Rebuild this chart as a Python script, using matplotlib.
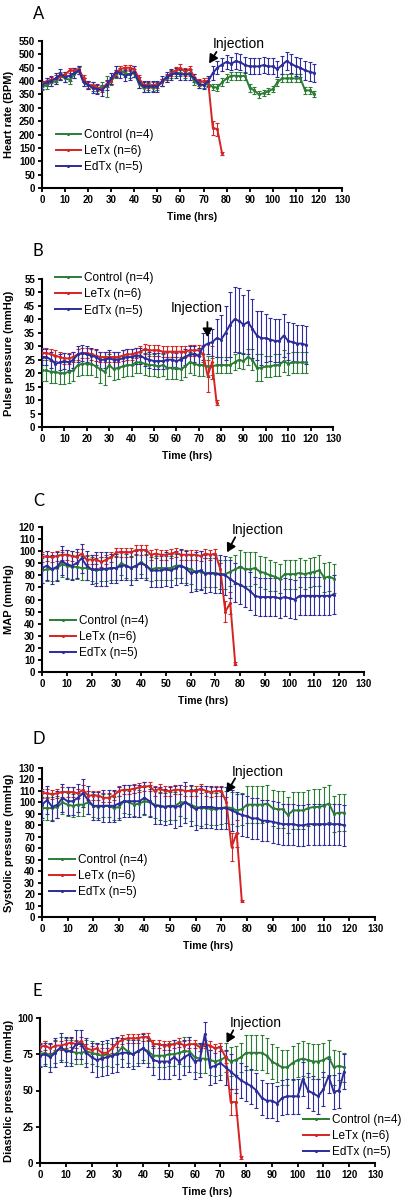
import matplotlib
matplotlib.use('Agg')
import matplotlib.pyplot as plt
from matplotlib.lines import Line2D

# ---------------- data ----------------
t_long = list(range(0, 120, 2))   # Control / EdTx time points (hrs)
t_short = list(range(0, 80, 2))   # LeTx time points (hrs)

series_names = ["Control (n=4)", "LeTx (n=6)", "EdTx (n=5)"]

# Panel A: Heart rate (BPM)
ctrl_A = [380, 385, 395, 400, 420, 410, 405, 425, 440, 395,
          385, 375, 370, 380, 380, 400, 425, 440, 430, 425,
          430, 390, 375, 380, 375, 380, 395, 410, 425, 430,
          430, 425, 430, 400, 385, 385, 390, 378, 376, 395,
          410, 420, 420, 418, 420, 375, 365, 350, 355, 362,
          370, 395, 410, 410, 410, 410, 410, 365, 365, 352]
ctrl_A_err = [15, 15, 12, 12, 15, 12, 15, 12, 12, 15,
              15, 12, 15, 15, 40, 15, 15, 15, 15, 15,
              15, 15, 15, 12, 12, 12, 12, 12, 12, 12,
              12, 12, 12, 15, 12, 12, 12, 12, 12, 15,
              15, 15, 15, 15, 15, 15, 12, 12, 12, 12,
              12, 12, 15, 15, 15, 15, 15, 12, 12, 12]
red_A = [390, 400, 405, 410, 420, 425, 440, 440, 445, 410,
         385, 385, 375, 370, 390, 400, 430, 445, 450, 450,
         445, 410, 385, 385, 385, 385, 395, 415, 430, 440,
         450, 435, 445, 415, 395, 400, 400, 225, 220, 130]
red_A_err = [12, 12, 12, 12, 12, 10, 10, 10, 12, 12,
             12, 12, 12, 12, 12, 12, 12, 12, 12, 12,
             12, 12, 12, 12, 12, 12, 12, 12, 12, 12,
             15, 15, 12, 12, 12, 12, 12, 25, 25, 5]
blue_A = [385, 395, 400, 410, 425, 415, 420, 430, 440, 395,
          385, 375, 370, 365, 385, 410, 435, 430, 420, 425,
          435, 395, 380, 380, 380, 380, 400, 415, 425, 430,
          425, 425, 425, 410, 390, 385, 400, 430, 450, 462,
          472, 465, 475, 470, 460, 455, 455, 455, 460, 455,
          455, 445, 460, 475, 465, 455, 450, 440, 435, 430]
blue_A_err = [15, 15, 20, 20, 20, 20, 20, 20, 15, 15,
              15, 20, 20, 20, 20, 20, 20, 20, 20, 20,
              20, 20, 20, 20, 20, 20, 20, 20, 20, 20,
              20, 20, 20, 15, 15, 15, 20, 25, 25, 25,
              25, 25, 30, 30, 30, 30, 30, 30, 30, 30,
              30, 30, 35, 35, 35, 35, 35, 35, 35, 35]

# Panel B: Pulse pressure (mmHg)
ctrl_B = [21, 21, 20.5, 20.5, 20, 20, 20.5, 21, 23, 23.5,
          23.5, 23.5, 22.5, 21.5, 20.5, 23, 21.5, 22, 22.5, 23,
          23, 24, 24, 23.5, 23, 23, 22.5, 23, 22, 22,
          22, 21.5, 22.5, 24, 23.5, 23, 23, 22.5, 22.5, 23,
          23, 23, 23, 24, 25, 24.5, 26, 25, 22, 22,
          22.5, 22.5, 23, 23, 24.5, 23.5, 24, 24, 24, 24]
ctrl_B_err = [4, 4, 4, 4, 4, 4, 4, 4, 4, 4,
              4, 4, 4, 5, 5, 4, 4, 4, 4, 4,
              4, 4, 4, 4, 4, 4, 4, 4, 4, 4,
              4, 4, 4, 4, 4, 4, 4, 4, 3, 3,
              3, 3, 3, 3, 3, 3, 3, 4, 5, 5,
              4, 4, 4, 4, 4, 4, 4, 4, 4, 4]
red_B = [27.5, 27.5, 27, 26.5, 26, 25.5, 25.5, 26, 27, 27.5,
         27.5, 27, 26.5, 26, 26, 26, 26, 26, 26.5, 27,
         27, 27.5, 28, 29, 28.5, 28.5, 28.5, 28, 28, 28,
         28, 28, 28, 28.5, 28.5, 28.5, 27, 19, 24, 9]
red_B_err = [2, 2, 2, 2, 2, 2, 2, 2, 2, 2,
             2, 2, 2, 2, 2, 2, 2, 2, 2, 2,
             2, 2, 2, 2, 2, 2, 2, 2, 2, 2,
             2, 2, 2, 2, 2, 2, 3, 6, 6, 1]
blue_B = [26, 26, 25, 23.5, 24, 24.5, 24, 25, 27, 27.5,
          27, 26.5, 26, 25, 25, 25.5, 25, 25, 25.5, 26,
          26, 26.5, 26.5, 25.5, 25, 24.5, 24.5, 24.5, 25, 25,
          24.5, 25, 26, 27, 27, 26.5, 30, 31, 31.5, 33,
          32.5, 35, 38, 40, 39.5, 38, 39, 36.5, 34, 33,
          33, 32.5, 32, 32, 34, 32, 31.5, 31, 31, 30.5]
blue_B_err = [3, 3, 3, 3, 3, 3, 3, 3, 3, 3,
              3, 3, 3, 3, 3, 3, 3, 3, 3, 3,
              3, 3, 3, 3, 3, 3, 3, 3, 3, 3,
              3, 3, 3, 3, 3, 3, 5, 4, 5, 7,
              9, 10, 12, 12, 12, 11, 12, 11, 9, 10,
              9, 8, 8, 8, 8, 7, 7, 7, 7, 7]

# Panel C: MAP (mmHg)
ctrl_C = [84, 85, 85, 86, 89, 88, 87, 87, 86, 86,
          85, 84, 85, 85, 86, 86, 90, 88, 86, 88,
          91, 88, 85, 86, 86, 86, 86, 88, 88, 86,
          85, 83, 83, 82, 82, 82, 81, 81, 83, 85,
          87, 85, 85, 86, 83, 82, 80, 79, 77, 81,
          81, 81, 82, 81, 82, 83, 84, 78, 79, 77]
ctrl_C_err = [10, 10, 10, 10, 10, 10, 10, 10, 10, 10,
              10, 10, 10, 10, 10, 10, 10, 10, 10, 10,
              10, 10, 10, 10, 10, 10, 10, 10, 10, 12,
              12, 14, 14, 12, 12, 12, 12, 12, 12, 12,
              14, 14, 14, 13, 13, 13, 13, 12, 12, 12,
              12, 12, 12, 12, 12, 12, 13, 12, 12, 12]
red_C = [95, 96, 95, 96, 97, 97, 96, 95, 98, 93,
         93, 93, 91, 93, 95, 99, 99, 99, 99, 101,
         101, 101, 97, 98, 97, 97, 98, 99, 97, 97,
         97, 97, 96, 98, 97, 98, 85, 50, 57, 7]
red_C_err = [4, 4, 4, 4, 4, 4, 4, 4, 4, 4,
             4, 4, 4, 4, 4, 4, 4, 4, 4, 4,
             4, 4, 4, 4, 4, 4, 4, 4, 4, 4,
             4, 4, 4, 4, 4, 4, 5, 9, 9, 1]
blue_C = [86, 88, 85, 87, 92, 89, 88, 90, 94, 88,
          85, 85, 85, 85.5, 86, 86, 88, 88, 86, 88,
          90, 88, 84, 84, 84, 85, 84, 86, 88, 86,
          82, 83, 84, 81, 82, 81, 81, 80, 77, 74,
          72, 70, 67, 63, 62, 62, 62, 62, 61, 62,
          61, 60, 63, 63, 63, 63, 63, 63, 63, 64]
blue_C_err = [12, 12, 12, 12, 12, 12, 12, 12, 12, 12,
              12, 14, 14, 14, 12, 12, 12, 12, 14, 12,
              12, 12, 14, 14, 14, 14, 14, 14, 14, 14,
              16, 16, 16, 16, 16, 16, 16, 16, 16, 16,
              16, 16, 16, 16, 16, 16, 16, 16, 16, 16,
              16, 16, 16, 16, 16, 16, 16, 16, 16, 16]

# Panel D: Systolic pressure (mmHg)
ctrl_D = [95, 95, 95, 96, 100, 98, 97, 98, 98, 100,
          97, 96, 97, 97, 95, 96, 101, 100, 98, 99,
          101, 100, 98, 97, 96, 97, 97, 100, 100, 98,
          96, 95, 95, 94, 94, 95, 96, 95, 93, 94,
          98, 98, 98, 98, 99, 95, 94, 94, 89, 93,
          93, 93, 95, 96, 96, 97, 99, 90, 91, 91]
ctrl_D_err = [10, 10, 10, 10, 10, 10, 10, 10, 10, 10,
              10, 10, 10, 10, 10, 10, 10, 10, 10, 12,
              12, 12, 12, 12, 12, 12, 12, 12, 14, 14,
              16, 16, 14, 14, 14, 14, 14, 14, 14, 14,
              16, 16, 16, 16, 16, 16, 16, 16, 16, 16,
              16, 16, 16, 16, 16, 16, 16, 16, 16, 16]
red_D = [108, 108, 107, 108, 109, 109, 109, 108, 111, 106,
         106, 106, 104, 104, 106, 110, 111, 111, 112, 113,
         114, 114, 110, 112, 110, 110, 111, 111, 110, 110,
         110, 112, 110, 109, 110, 110, 100, 61, 73, 14]
red_D_err = [4, 4, 4, 4, 4, 4, 4, 4, 4, 4,
             4, 4, 4, 4, 4, 4, 4, 4, 4, 4,
             4, 4, 4, 4, 4, 4, 4, 4, 4, 4,
             4, 4, 4, 4, 4, 4, 5, 12, 12, 1]
blue_D = [98, 102, 96, 98, 104, 101, 101, 104, 108, 102,
          97, 97, 97, 97, 97, 99, 101, 101, 101, 101,
          104, 101, 97, 97, 96, 97, 96, 97, 100, 97,
          94, 96, 96, 96, 95, 95, 95, 93, 91, 89,
          88, 86, 86, 84, 84, 83, 82, 81, 81, 81,
          80, 80, 81, 81, 81, 81, 81, 81, 81, 80]
blue_D_err = [12, 12, 12, 12, 12, 12, 12, 12, 12, 12,
              12, 12, 14, 14, 14, 14, 14, 14, 14, 14,
              14, 14, 16, 16, 16, 16, 18, 18, 18, 18,
              18, 18, 18, 18, 18, 18, 18, 18, 18, 18,
              18, 18, 18, 18, 18, 18, 18, 18, 18, 18,
              18, 18, 18, 18, 18, 18, 18, 18, 18, 18]

# Panel E: Diastolic pressure (mmHg)
ctrl_E = [75, 76, 74, 77, 79, 78, 77, 76, 76, 77,
          76, 75, 74, 75, 74, 76, 80, 77, 75, 77,
          79, 77, 74, 74, 74, 75, 75, 76, 77, 77,
          73, 72, 72, 71, 70, 71, 73, 70, 71, 73,
          76, 76, 76, 76, 74, 70, 68, 66, 66, 69,
          71, 72, 71, 70, 70, 71, 73, 66, 67, 66]
ctrl_E_err = [8, 8, 8, 8, 8, 8, 8, 8, 8, 8,
              8, 8, 8, 8, 8, 8, 8, 8, 8, 8,
              8, 8, 8, 8, 8, 8, 8, 8, 10, 10,
              10, 10, 10, 10, 10, 10, 10, 10, 10, 10,
              12, 12, 12, 12, 12, 12, 12, 12, 12, 12,
              12, 12, 12, 12, 12, 12, 12, 12, 10, 10]
red_E = [80, 81, 79, 81, 81, 82, 83, 82, 84, 79,
         78, 79, 76, 76, 79, 83, 85, 86, 86, 86,
         87, 87, 82, 82, 81, 81, 82, 83, 81, 82,
         82, 80, 82, 81, 79, 80, 73, 42, 42, 4]
red_E_err = [3, 3, 3, 3, 3, 3, 3, 3, 3, 3,
             3, 3, 3, 3, 3, 3, 3, 3, 3, 3,
             3, 3, 3, 3, 3, 3, 3, 3, 3, 3,
             3, 3, 3, 3, 3, 3, 4, 9, 9, 1]
blue_E = [74, 75, 73, 76, 80, 77, 77, 82, 82, 76,
          73, 71, 72, 73, 74, 75, 76, 76, 75, 77,
          79, 76, 71, 70, 70, 70, 73, 70, 73, 75,
          70, 71, 89, 66, 67, 69, 66, 63, 60, 57,
          55, 53, 50, 45, 43, 43, 41, 45, 46, 46,
          46, 58, 50, 48, 46, 51, 60, 49, 50, 63]
blue_E_err = [8, 8, 10, 10, 10, 10, 10, 10, 10, 10,
              10, 12, 12, 12, 12, 12, 10, 10, 10, 10,
              10, 10, 10, 12, 12, 12, 12, 12, 12, 12,
              12, 12, 8, 12, 12, 12, 12, 12, 12, 12,
              12, 12, 12, 12, 12, 12, 12, 12, 12, 12,
              12, 12, 12, 12, 12, 12, 12, 12, 12, 12]

# ---------------- style ----------------
GREEN = '#2b7d36'
RED = '#d42424'
BLUE = '#2c2c9c'

plt.rcParams['font.family'] = ['Liberation Sans', 'DejaVu Sans']

fig = plt.figure(figsize=(4.01, 12.01), dpi=100)
W, H = 401.0, 1201.0


def ax_at(x0, x1, ytop, ybot):
    return fig.add_axes([x0 / W, 1 - ybot / H, (x1 - x0) / W, (ybot - ytop) / H])


panels = [
    dict(letter='A', box=(42, 342, 41, 188), ymax=550, ystep=50,
         ylabel='Heart rate (BPM)', data=(ctrl_A, ctrl_A_err, red_A, red_A_err, blue_A, blue_A_err),
         leg=(0.045, 0.40), text=(74.1, 538), arrow=((75.6, 509), (72.4, 466)), lab=(33, 14)),
    dict(letter='B', box=(42, 333, 279, 427), ymax=55, ystep=5,
         ylabel='Pulse pressure (mmHg)', data=(ctrl_B, ctrl_B_err, red_B, red_B_err, blue_B, blue_B_err),
         leg=(0.045, 1.045), text=(57.6, 44.2), arrow=((73.9, 39.0), (73.9, 33.4)), lab=(33, 251)),
    dict(letter='C', box=(42, 364, 527, 672), ymax=120, ystep=10,
         ylabel='MAP (mmHg)', data=(ctrl_C, ctrl_C_err, red_C, red_C_err, blue_C, blue_C_err),
         leg=(0.025, 0.395), text=(76.7, 117.5), arrow=((78.0, 111.5), (74.7, 99.0)), lab=(33, 501)),
    dict(letter='D', box=(42, 375, 768, 917), ymax=130, ystep=10,
         ylabel='Systolic pressure (mmHg)', data=(ctrl_D, ctrl_D_err, red_D, red_D_err, blue_D, blue_D_err),
         leg=(0.02, 0.425), text=(74.2, 126.5), arrow=((75.4, 121.0), (72.1, 108.3)), lab=(32, 739)),
    dict(letter='E', box=(40, 375, 1018, 1163), ymax=100, ystep=25,
         ylabel='Diastolic pressure (mmHg)', data=(ctrl_E, ctrl_E_err, red_E, red_E_err, blue_E, blue_E_err),
         leg=(0.785, 0.34), text=(73.7, 96.8), arrow=((75.0, 91.5), (72.4, 82.8)), lab=(33, 991)),
]

for p in panels:
    ax = ax_at(*p['box'])
    c, ce, r, re_, b, be = p['data']
    for (xs, ys, es, col) in ((t_long, c, ce, GREEN), (t_short, r, re_, RED), (t_long, b, be, BLUE)):
        ax.errorbar(xs, ys, yerr=es, color=col, lw=1.4, marker='.', ms=2.5,
                    elinewidth=0.8, capsize=1.6, capthick=0.8, ecolor=col, zorder=3)
    ax.set_xlim(0, 130)
    ax.set_ylim(0, p['ymax'])
    ax.set_xticks(range(0, 131, 10))
    ax.set_yticks(range(0, p['ymax'] + 1, p['ystep']))
    for s in ('top', 'right'):
        ax.spines[s].set_visible(False)
    for s in ('left', 'bottom'):
        ax.spines[s].set_linewidth(1.5)
    ax.tick_params(direction='out', length=3, width=1.3, labelsize=7, pad=2)
    for lab in ax.get_xticklabels() + ax.get_yticklabels():
        lab.set_fontweight('bold')
    ax.set_xlabel('Time (hrs)', fontsize=7.5, fontweight='bold', labelpad=5)
    ax.set_ylabel(p['ylabel'], fontsize=8, fontweight='bold')
    bx = p['box']
    ax.yaxis.set_label_coords((14 - bx[0]) / (bx[1] - bx[0]), 0.5)
    ax.patch.set_alpha(0)

    handles = [Line2D([], [], color=col, lw=1.4, marker='.', ms=2.5) for col in (GREEN, RED, BLUE)]
    ax.legend(handles, series_names, loc='upper left', bbox_to_anchor=p['leg'], frameon=False,
              fontsize=8.5, handlelength=2.2, handletextpad=0.25, labelspacing=0.35,
              borderpad=0, borderaxespad=0)

    ax.text(p['text'][0], p['text'][1], 'Injection', fontsize=10, ha='left', va='center', clip_on=False)
    (sx, sy), (tx, ty) = p['arrow']
    ax.annotate('', xy=(tx, ty), xytext=(sx, sy),
                arrowprops=dict(arrowstyle='-|>,head_length=0.5,head_width=0.28', color='black',
                                lw=1.3, shrinkA=0, shrinkB=0), annotation_clip=False)

    fig.text(p['lab'][0] / W, 1 - p['lab'][1] / H, p['letter'], fontsize=12, family='Lato',
             ha='left', va='center')

fig.savefig('out.png', dpi=100)
